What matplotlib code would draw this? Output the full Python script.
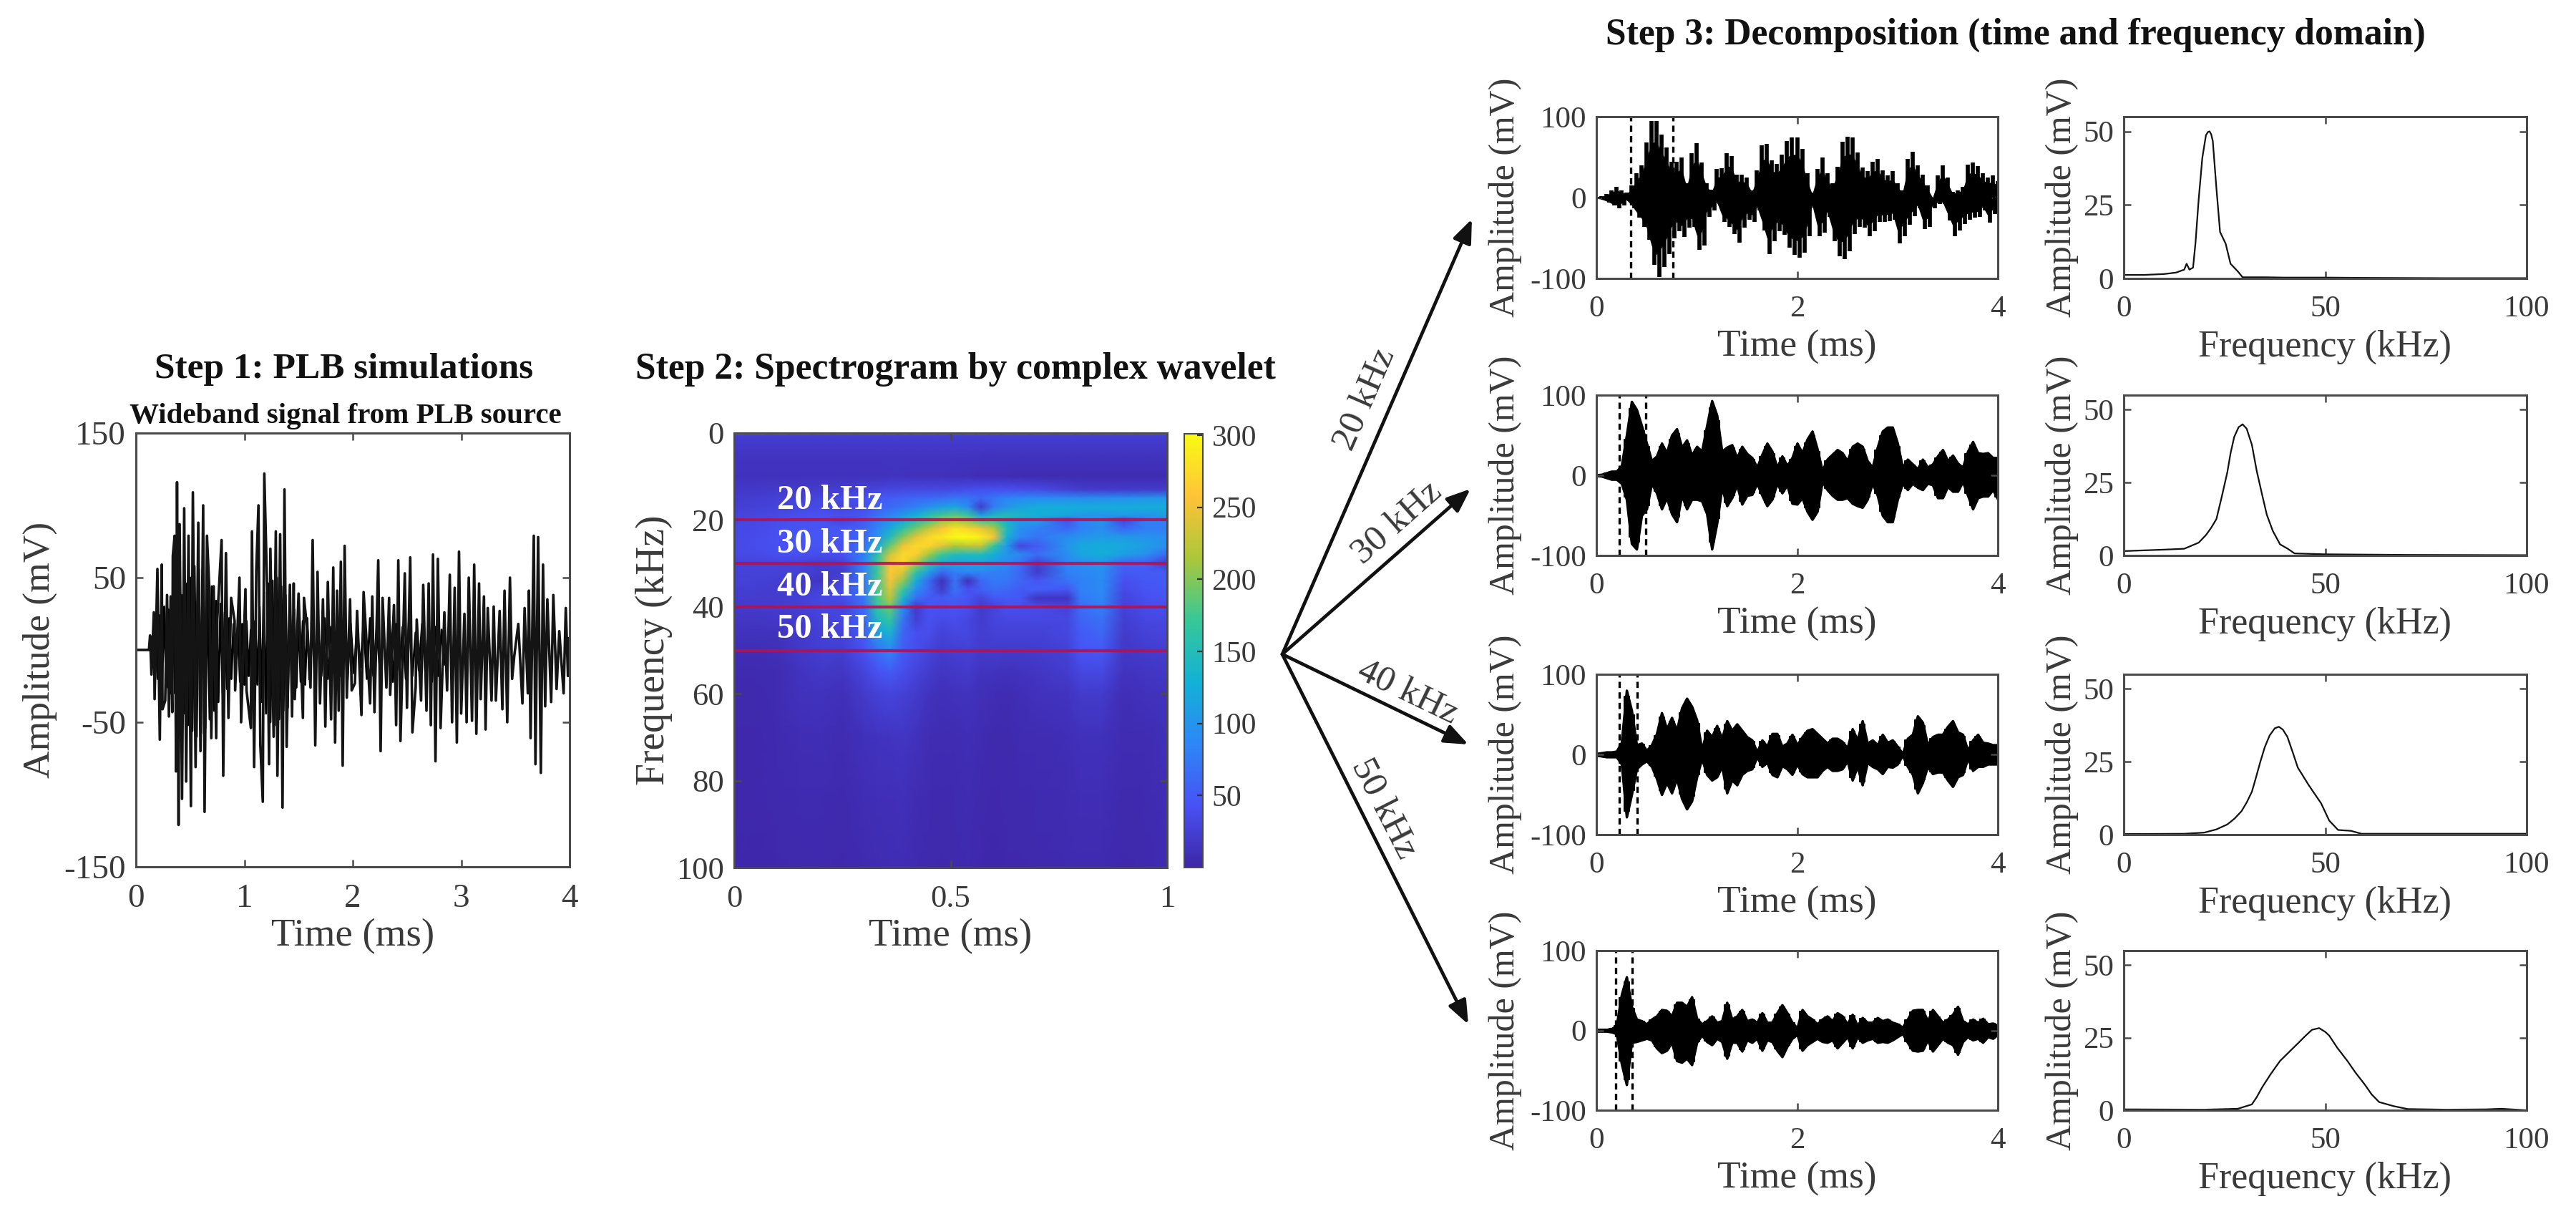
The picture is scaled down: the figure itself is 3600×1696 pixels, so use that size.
import numpy as np
import matplotlib
matplotlib.use("Agg")
import matplotlib.pyplot as plt
from matplotlib.colors import LinearSegmentedColormap

plt.rcParams['font.family'] = ['Liberation Serif', 'DejaVu Serif']
W, H = 3600, 1696

# ---------- Step 1: wideband signal (spikes) ----------
P1_UP_T = [0,.12,.13,.165,.198,.238,.287,.32,.34,.357,.379,.403,.445,.485,.525,.575,.62,.655,.677,.717,.75,.79,.83,.878,.91,.955,1.01,
           1.07,1.11,1.13,1.184,1.21,1.24,1.29,1.33,1.37,1.42,1.455,1.5,1.55,1.585,1.63,1.675,1.725,1.77,1.82,1.855,1.89,1.925,1.975,
           2.04,2.10,2.18,2.235,2.275,2.335,2.38,2.42,2.48,2.53,2.59,2.65,2.70,2.74,2.785,2.845,2.895,2.94,2.98,3.03,3.07,3.12,3.165,3.21,3.245,3.30,3.355,3.40,3.45,3.49,3.527,3.585,3.625,3.67,3.71,3.755,3.795,3.85,3.905,3.965,3.995]
P1_UP_V = [0,0,10,26,56,59,38,37,65,79,116,87,98,79,109,88,100,79,42,44,21,76,67,36,20,50,42,
           82,55,100,122,42,70,82,80,111,45,46,39,36,10,76,54,35,47,57,41,61,72,35,
           27,40,37,62,36,36,31,62,53,64,21,45,46,66,63,26,52,43,68,25,50,59,46,37,29,30,27,41,50,-4,18,29,41,79,78,59,35,38,13,29,8]
P1_LO_T = [.143,.172,.22,.245,.27,.304,.335,.37,.393,.425,.463,.507,.55,.595,.633,.695,.74,.805,.853,.915,.97,1.02,1.06,1.09,1.147,1.17,1.228,1.27,1.305,1.352,1.39,1.44,1.465,1.54,1.61,1.654,1.698,1.747,1.8,1.837,1.87,1.907,1.945,1.99,
           2.02,2.08,2.16,2.2,2.257,2.31,2.345,2.4,2.44,2.5,2.55,2.58,2.63,2.68,2.72,2.763,2.81,2.87,2.916,2.96,3.0,3.05,3.1,3.14,3.18,3.225,3.28,3.32,3.38,3.425,3.47,3.565,3.615,3.64,3.685,3.735,3.775,3.83,3.88,3.945,3.985]
P1_LO_V = [-17,-34,-62,-41,-35,-46,-43,-84,-121,-103,-91,-108,-81,-70,-112,-61,-61,-87,-47,-28,-50,-28,-54,-81,-65,-105,-79,-60,-87,-109,-67,-46,-34,-47,-26,-66,-37,-53,-48,-64,-42,-80,-33,-28,
           -23,-45,-37,-43,-70,-26,-31,-52,-63,-40,-57,-26,-35,-42,-52,-77,-54,-28,-50,-64,-44,-50,-49,-58,-34,-55,-35,-35,-41,-50,-20,-37,-30,-61,-79,-85,-39,-36,-27,-30,-18]
P1_CORE_A = [9,-12,16,-20,24,-27,30,-26,28,-30,33,-30,34,-34,38,-44,46,-52,50,-56,58,-60,56,-58,52,-54,46,-48,44,-42,34,-36,32,-30,26,-27,22,-20,18,-20,
             16,-22,18,-24,20,-18,14,-16,20,-24,30,-36,40,-44,46,-50,48,-52,50,-48,44,-42,38,-40,32,-30,28,-26,24,-22,20,-24,22,-20]
P1_CORE_B = [18,-16,14,-18,22,-20,16,-14,12,-18,20,-22,18,-16,14,-12,18,-20,22,-18,14,-12,10,-16,20,-22,18,-14,16,-20,22,-18,12,-14,18,-16,20,-22,16,-18,14,-10]

# ---------- Step 2: spectrogram values ----------
SPEC_T = [0,.05,.1,.15,.2,.25,.3,.33,.36,.39,.42,.45,.48,.51,.54,.57,.6,.63,.66,.7,.77,.8,.85,.9,.95,1]
SPEC_F = [0,.6,5,10,13,15,17,19,20,22,24,26,28,30,32,34,36,38,40,43,46,50,55,60,70,85,100]
SPEC_V = [
 [130]*26,
 [24]*26,
 [15,15,15,15,15,15,15,15,15,15,15,15,15,15,15,15,14,14,14,14,14,14,14,14,14,14],
 [12,12,12,12,12,12,12,12,14,14,12,12,12,11,10,8,8,8,7,7,7,7,7,7,7,7],
 [18,18,20,20,22,24,28,30,32,34,34,34,34,36,38,40,40,40,38,36,26,22,20,20,20,20],
 [22,24,26,28,32,36,42,48,52,56,60,62,66,72,70,60,74,84,88,90,90,90,92,95,100,100],
 [25,26,30,34,36,30,38,55,62,70,80,95,110,118,90,20,78,100,115,125,125,125,125,125,125,125],
 [30,32,36,40,44,40,48,68,85,105,130,155,175,185,170,110,140,150,140,130,115,105,100,105,100,110],
 [32,34,38,42,44,30,50,72,95,120,150,175,205,215,200,170,165,130,110,110,40,80,100,30,80,80],
 [34,36,40,44,46,46,56,85,120,160,195,230,258,280,270,250,220,145,95,80,60,82,92,60,78,78],
 [35,37,42,46,48,46,60,100,150,200,245,275,285,298,300,290,255,130,85,70,95,100,108,105,100,95],
 [36,38,42,46,44,40,70,125,190,250,275,270,240,215,225,225,165,105,30,50,100,120,125,120,110,95],
 [35,36,40,42,38,40,80,155,235,275,265,210,170,150,145,145,125,100,90,65,95,115,125,110,95,60],
 [30,30,30,28,22,28,85,170,255,272,215,155,125,115,115,115,105,90,70,25,85,95,100,55,55,20],
 [28,28,28,26,22,20,80,170,260,240,165,110,60,80,85,85,80,78,60,20,80,85,95,50,50,50],
 [26,26,24,20,15,30,75,175,255,205,125,60,10,70,10,60,75,72,60,45,70,80,90,40,48,50],
 [25,24,22,20,28,35,75,175,240,170,95,60,20,70,40,55,65,60,50,55,45,80,90,35,45,48],
 [22,22,22,25,32,36,72,175,225,135,65,50,50,55,45,30,48,50,48,15,15,75,85,30,40,45],
 [20,20,22,26,32,30,65,165,190,95,20,45,42,45,40,20,30,42,40,38,30,65,80,28,38,40],
 [16,16,18,22,28,32,58,140,165,70,25,42,36,38,32,22,30,32,32,32,32,58,68,24,32,34],
 [12,12,14,20,26,28,50,110,135,58,40,38,28,32,32,24,26,26,26,26,32,50,60,20,28,30],
 [8,8,10,18,24,24,42,68,85,50,38,30,22,24,26,20,22,20,20,22,28,44,48,18,22,24],
 [5,5,7,14,18,16,30,42,50,38,30,22,16,18,20,14,14,11,13,16,22,32,34,13,16,18],
 [4,4,6,12,14,10,20,26,30,26,20,14,10,12,14,10,8,7,9,12,15,20,20,9,12,14],
 [3,3,5,8,9,6,11,14,15,16,12,8,6,7,9,6,4,4,6,7,9,11,11,6,7,10],
 [3,3,4,5,5,4,8,9,9,10,7,5,4,5,6,4,3,4,4,5,6,8,8,4,5,8],
 [2,2,3,4,4,3,5,7,8,8,5,4,3,4,5,3,2,3,3,4,5,5,5,3,4,7],
]
PARULA = ['#3E26A8','#4852F4','#2D87F7','#12B1D6','#37C897','#ABC739','#FEC338','#F9FB14']
BAND_F = [20,30,40,50]
BAND_LABELS = ['20 kHz','30 kHz','40 kHz','50 kHz']
BAND_LABEL_F = [15.5,25.6,35.4,45.2]

# ---------- Step 3: time-domain envelopes, one value every 0.05 ms ----------
ENV_STEP = 0.05
R1_UP = [1,2,4,9,13,9,6,15,30,40,68,95,95,78,62,44,44,50,18,55,67,43,18,10,35,36,55,51,28,28,25,9,34,65,66,46,42,53,70,74,74,60,30,6,35,50,30,18,38,69,75,74,56,37,33,44,48,34,27,33,18,9,48,57,40,28,15,0,27,40,25,7,9,13,41,43,39,30,25,27,20]
R1_LO = [-1,-3,-6,-10,-13,-10,-4,-13,-25,-36,-52,-83,-98,-86,-70,-50,-42,-49,-37,-36,-65,-59,-24,-16,-8,-30,-36,-45,-56,-37,-27,-30,-16,-41,-70,-54,-42,-46,-62,-71,-74,-68,-48,-13,-48,-43,-24,-54,-73,-76,-66,-45,-36,-37,-48,-42,-30,-30,-29,-27,-57,-48,-34,-23,-13,-39,-36,-13,-8,-8,-28,-48,-41,-33,-27,-25,-24,-16,-31,-20,-30]
R2_UP = [.5,1,3,5,5,12,50,92,82,62,40,18,24,40,28,50,58,35,44,25,36,30,62,93,75,30,35,38,22,36,27,22,10,26,40,30,10,24,12,22,40,28,45,55,33,6,20,26,32,28,18,36,40,36,18,10,35,55,60,60,40,10,20,14,8,20,10,14,24,32,18,25,15,10,30,42,28,27,28,22,22]
R2_LO = [-.5,-1,-3,-5,-5,-10,-30,-85,-92,-50,-42,-10,-22,-42,-28,-48,-58,-25,-42,-30,-30,-32,-48,-92,-60,-15,-38,-28,-12,-36,-25,-24,-10,-25,-38,-30,-10,-22,-12,-35,-36,-28,-45,-55,-45,-8,-18,-25,-30,-30,-28,-35,-38,-40,-30,-10,-25,-50,-58,-58,-30,-10,-18,-10,-15,-18,-10,-12,-28,-28,-14,-20,-20,-8,-25,-42,-28,-26,-26,-18,-30]
R3_UP = [1,2,3,3,4,15,80,55,12,14,5,12,26,52,32,46,30,58,70,60,43,6,30,22,36,20,42,30,38,30,22,18,3,18,10,26,26,10,14,25,12,22,30,32,26,20,14,20,20,16,8,32,18,42,14,18,12,25,15,18,10,1,20,25,48,40,12,22,25,25,35,42,28,25,5,18,25,15,14,12,12]
R3_LO = [-1,-2,-3,-3,-3,-12,-78,-50,-18,-12,-8,-15,-30,-50,-35,-48,-30,-55,-68,-58,-28,-5,-25,-32,-28,-15,-48,-32,-38,-25,-20,-18,-3,-15,-10,-25,-28,-14,-18,-25,-12,-24,-28,-28,-28,-20,-15,-20,-20,-18,-8,-32,-15,-38,-10,-15,-18,-24,-15,-16,-12,-1,-15,-25,-48,-35,-15,-24,-22,-22,-32,-40,-28,-25,-5,-20,-15,-15,-12,-12,-12]
R4_UP = [1,1,1,2,6,45,67,30,14,12,8,14,18,26,25,18,35,35,30,42,15,8,12,18,10,12,35,14,18,26,12,14,10,22,10,10,22,32,22,10,3,26,18,14,8,14,18,12,22,18,8,20,6,16,10,10,16,12,14,10,8,4,14,25,26,26,12,26,18,10,14,20,30,12,8,14,10,15,8,9,6]
R4_LO = [-1,-1,-1,-2,-4,-42,-68,-15,-14,-12,-10,-12,-22,-28,-25,-15,-38,-40,-35,-43,-15,-6,-14,-18,-10,-14,-35,-15,-15,-26,-12,-15,-10,-25,-12,-14,-25,-33,-20,-10,-5,-25,-18,-14,-10,-14,-15,-12,-22,-15,-8,-22,-8,-15,-12,-10,-15,-14,-15,-12,-8,-4,-15,-25,-26,-25,-12,-26,-18,-10,-15,-18,-30,-14,-8,-12,-10,-15,-8,-10,-5]
WINDOWS = [(.34,.764),(.23,.495),(.23,.404),(.196,.357)]

# ---------- Step 3: spectra ----------
S1_F = [0,5,10,13,15,15.6,16.3,17.2,17.8,18.6,19.5,20.4,20.9,21.3,21.7,22.1,23,23.9,25.3,26.5,28.3,29.5,35,40,50,60,80,100]
S1_A = [1.2,1.2,1.5,2,3,5,3,3.7,12,27,41,48.7,49.8,50,49,46.7,30.6,15.8,11.8,5,2.4,.4,.4,.3,.3,.2,.1,.1]
S2_F = [0,10,15,18.6,20.4,21.7,23,24.3,25.7,26.5,27.4,28.5,29.5,30.5,31.8,33,34.4,35.5,37,38.8,40.6,42.4,50,60,70,100]
S2_A = [1.5,2,2.3,4.4,7,9.5,12.5,20,28.5,35,40.6,44,45,43.5,38,29,20.5,14,8.4,3.8,2.4,.7,.4,.3,.2,.1]
S3_F = [0,15,20,23,25.7,27.5,29.2,30.5,31.8,32.8,33.9,35,36.2,37.5,38.5,39.5,40.6,42,43.2,45.9,49,51,53.2,56.4,59,70,100]
S3_A = [.2,.3,.7,1.8,3.5,5.5,8,11,14.7,19.5,25,30,34,36.5,37,36,33.6,28,23,17,10.7,4.8,1.6,1.3,.3,.3,.3]
S4_F = [0,20,28.3,31.8,33,34.4,36.5,38.8,41,43.2,45,46.7,48.5,50,51,53,55.5,57.5,59.9,61.5,63.4,67,70.5,80,90,93.7,100]
S4_A = [.3,.2,.5,2,4.5,8,12.5,17,20,23,25.5,27.7,28.3,27,25.7,21.5,17,13,8.7,5.5,2.8,1.4,.4,.2,.3,.5,0]

# ---------- layout helpers (pixel positions on the 3600x1696 canvas) ----------
fig = plt.figure(figsize=(W/100, H/100), dpi=100, facecolor='white')
GREY = '#3a3a3a'

def make_ax(l, t, r, b):
    ax = fig.add_axes([l/W, 1-b/H, (r-l)/W, (b-t)/H])
    for s in ax.spines.values():
        s.set_linewidth(2.2); s.set_color('#4a4a4a')
    return ax

def put(x, y, s, **kw):
    kw.setdefault('ha', 'center'); kw.setdefault('va', 'center')
    kw.setdefault('color', GREY)
    fig.text(x/W, 1-y/H, s, **kw)

def style(ax, xt, xl, yt, yl, size):
    ax.set_xticks(xt); ax.set_xticklabels(xl)
    ax.set_yticks(yt); ax.set_yticklabels(yl)
    ax.tick_params(direction='in', length=7, width=1.8, color='#4a4a4a', top=True, right=True,
                   labelsize=size, labelcolor=GREY)
    ax.tick_params(axis='x', pad=17)
    ax.tick_params(axis='y', pad=10)

# ---------- Step 1 ----------
ax1 = make_ax(190, 605, 796, 1211)
t1 = np.array(P1_UP_T + P1_LO_T); v1 = np.array(P1_UP_V + P1_LO_V)
o = np.argsort(t1)
ax1.plot(np.arange(len(P1_CORE_A))*.02 + .14, P1_CORE_A, color='#000000', lw=2.2)
ax1.plot(np.arange(len(P1_CORE_B))*.03 + 1.62, P1_CORE_B, color='#000000', lw=2.2)
ax1.plot(t1[o], v1[o], color='#141414', lw=2.6)
ax1.set_xlim(0, 4); ax1.set_ylim(-150, 150)
style(ax1, [0,1,2,3,4], ['0','1','2','3','4'], [-150,-50,50,150], ['-150','-50','50','150'], 34)
put(56, 908, 'Amplitude (mV)', rotation=90, fontsize=38.5)
put(493, 1308, 'Time (ms)', fontsize=39.5)
put(481, 516, 'Step 1: PLB simulations', fontsize=37, fontweight='bold', color='#111111')
put(483, 582, 'Wideband signal from PLB source', fontsize=29.5, fontweight='bold', color='#111111')

# ---------- Step 2 ----------
ax2 = make_ax(1026, 605, 1631, 1212)
cmap = LinearSegmentedColormap.from_list('parula_like', PARULA)
mesh = ax2.pcolormesh(SPEC_T, SPEC_F, np.array(SPEC_V, float), cmap=cmap, vmin=0, vmax=301, shading='gouraud')
ax2.set_xlim(0, 1); ax2.set_ylim(100, 0)
for f, lab, lf in zip(BAND_F, BAND_LABELS, BAND_LABEL_F):
    ax2.axhline(f, color='#B3124F', lw=3.0, alpha=.88)
    ax2.text(.1, lf, lab, color='white', fontsize=35, fontweight='bold', va='center', ha='left')
style(ax2, [0,.5,1], ['0','0.5','1'], [0,20,40,60,80,100], ['0','20','40','60','80','100'], 32)
cax = fig.add_axes([1655/W, 1-1212/H, 26/W, 606/H])
cb = fig.colorbar(mesh, cax=cax, ticks=[50,100,150,200,250,300])
cb.ax.tick_params(direction='in', length=6, width=1.6, labelsize=30, labelcolor=GREY, pad=9, color='#333333')
cb.outline.set_linewidth(1.5); cb.outline.set_edgecolor('#4a4a4a')
put(914, 908, 'Frequency (kHz)', rotation=90, fontsize=40)
put(1328, 1308, 'Time (ms)', fontsize=39.5)
put(1335, 516, 'Step 2: Spectrogram by complex wavelet', fontsize=37.2, fontweight='bold', color='#111111')

# ---------- arrows ----------
ov = fig.add_axes([0, 0, 1, 1]); ov.set_xlim(0, W); ov.set_ylim(H, 0); ov.axis('off'); ov.patch.set_alpha(0)
ARROW_TIPS = [(2057,306),(2055,683),(2052,1040),(2052,1431)]
ARROW_TXT = [(1908,558,66.4),(1953,731,41.3),(1967,968,-25.8),(1933,1130,-63)]
for tip, (tx, ty, rot), lab in zip(ARROW_TIPS, ARROW_TXT, BAND_LABELS):
    ov.annotate('', xy=tip, xytext=(1792, 914),
                arrowprops=dict(arrowstyle='-|>,head_length=0.5,head_width=0.2', lw=3.4, color='#111111', mutation_scale=40, shrinkA=0, shrinkB=0))
    ov.text(tx, ty, lab, rotation=rot, rotation_mode='anchor', ha='center', va='center', fontsize=37, color=GREY)

# ---------- Step 3 ----------
ROWS = [(163,389),(552,776),(942,1166),(1328,1551)]
UPS = [R1_UP,R2_UP,R3_UP,R4_UP]; LOS = [R1_LO,R2_LO,R3_LO,R4_LO]
SPEC = [(S1_F,S1_A),(S2_F,S2_A),(S3_F,S3_A),(S4_F,S4_A)]
for i, (top, bot) in enumerate(ROWS):
    a = make_ax(2231, top, 2792, bot)
    up = np.array(UPS[i], float); lo = np.array(LOS[i], float)
    tg = np.arange(len(up))*ENV_STEP
    if i == 0:
        a.vlines(tg, 0, up, color='black', lw=4.1, capstyle='butt')
        a.vlines(tg + ENV_STEP/2, 0, lo, color='black', lw=4.1, capstyle='butt')
        a.fill_between(tg, up*.72, lo*.72, color='black', lw=0)
    else:
        a.fill_between(tg, up, lo, color='black', lw=2.5, edgecolor='black')
        a.fill_between(tg, up*.9, lo*.9, step='mid', color='black', lw=1.5, edgecolor='black')
    for w in WINDOWS[i]:
        a.axvline(w, color='black', lw=2.4, ls=(0, (2.6, 1.8)))
    a.set_xlim(0, 4); a.set_ylim(-100, 100)
    style(a, [0,2,4], ['0','2','4'], [-100,0,100], ['-100','0','100'], 31)
    b = make_ax(2968, top, 3531, bot)
    b.plot(SPEC[i][0], SPEC[i][1], color='#111111', lw=1.6)
    b.set_xlim(0, 100); b.set_ylim(0, 55)
    style(b, [0,50,100], ['0','50','100'], [0,25,50], ['0','25','50'], 31)
    mid = (top+bot)/2
    put(2104, mid, 'Amplitude (mV)', rotation=90, fontsize=36)
    put(2882, mid, 'Amplitude (mV)', rotation=90, fontsize=36)
    put(2511, bot+96, 'Time (ms)', fontsize=38.5)
    put(3249, bot+96, 'Frequency (kHz)', fontsize=37.5)
put(2817, 49, 'Step 3: Decomposition (time and frequency domain)', fontsize=37.2, fontweight='bold', color='#111111')

fig.savefig('out.png', dpi=100)
